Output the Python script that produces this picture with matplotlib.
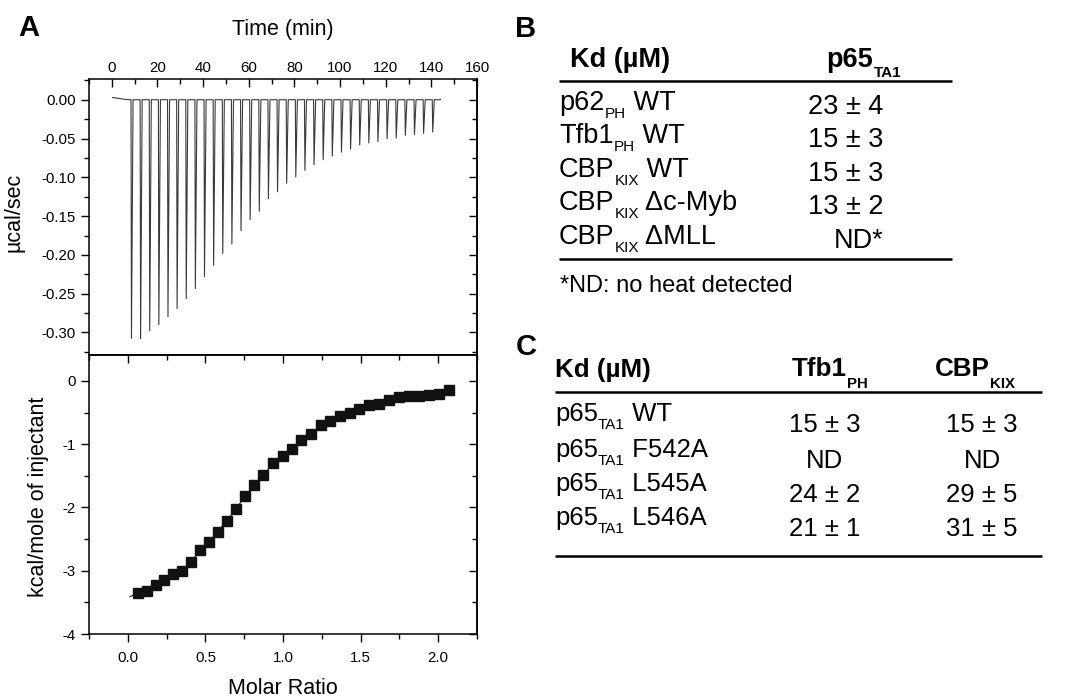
import numpy as np
import matplotlib
matplotlib.use('Agg')
import matplotlib.pyplot as plt
from matplotlib.ticker import MultipleLocator, FormatStrFormatter

plt.rcParams['font.family'] = ['Liberation Sans', 'DejaVu Sans']
plt.rcParams['axes.unicode_minus'] = False

### ITC raw data: injection times (min) and peak heights (ucal/sec)
inj_time = [8.4, 12.4, 16.4, 20.4, 24.4, 28.4, 32.4, 36.4, 40.4, 44.4, 48.4, 52.4,
            56.4, 60.4, 64.4, 68.4, 72.4, 76.4, 80.4, 84.4, 88.4, 92.4, 96.4, 100.4,
            104.4, 108.4, 112.4, 116.4, 120.4, 124.4, 128.4, 132.4, 136.4, 140.4]
inj_peak = [-0.3075, -0.308, -0.2976, -0.290, -0.2796, -0.269, -0.2564, -0.2435,
            -0.228, -0.2134, -0.198, -0.186, -0.1688, -0.1546, -0.1438, -0.1276,
            -0.1186, -0.1077, -0.0992, -0.091, -0.0838, -0.0773, -0.0726, -0.0674,
            -0.0635, -0.0584, -0.0558, -0.0541, -0.0503, -0.0494, -0.0459, -0.0446,
            -0.0433, -0.0416]
base_t = [0.3, 2.0, 4.0, 6.0, 8.0]
base_y = [0.0028, 0.0022, 0.0012, 0.0004, 0.0]
t_end = 144.0

### integrated heats
molar_ratio = [0.067, 0.121, 0.179, 0.235, 0.293, 0.351, 0.407, 0.465, 0.523, 0.579,
               0.637, 0.698, 0.756, 0.814, 0.874, 0.935, 0.997, 1.057, 1.118, 1.180,
               1.242, 1.305, 1.365, 1.430, 1.490, 1.553, 1.617, 1.682, 1.746, 1.811,
               1.875, 1.940, 2.005, 2.069]
heat = [-3.35, -3.32, -3.23, -3.14, -3.05, -3.00, -2.86, -2.68, -2.55, -2.38,
        -2.21, -2.02, -1.82, -1.65, -1.49, -1.30, -1.19, -1.07, -0.93, -0.84,
        -0.70, -0.64, -0.56, -0.50, -0.45, -0.38, -0.37, -0.30, -0.26, -0.24,
        -0.24, -0.22, -0.20, -0.15]
fit_x = [0.013] + molar_ratio
fit_y = [-3.41] + heat

### tables
b_rows = [('p62', 'PH', ' WT'), ('Tfb1', 'PH', ' WT'), ('CBP', 'KIX', ' WT'),
          ('CBP', 'KIX', ' Δc-Myb'), ('CBP', 'KIX', ' ΔMLL')]
b_vals = ['23 ± 4', '15 ± 3', '15 ± 3', '13 ± 2', 'ND*']
c_rows = [('p65', 'TA1', ' WT'), ('p65', 'TA1', ' F542A'),
          ('p65', 'TA1', ' L545A'), ('p65', 'TA1', ' L546A')]
c_tfb1 = ['15 ± 3', 'ND', '24 ± 2', '21 ± 1']
c_cbp = ['15 ± 3', 'ND', '29 ± 5', '31 ± 5']

fig = plt.figure(figsize=(10.85, 6.97), dpi=100)
W, H = 1085.0, 697.0
ax1 = fig.add_axes([89 / W, 1 - 355 / H, 388 / W, 276 / H])
ax2 = fig.add_axes([89 / W, 1 - 634 / H, 388 / W, 279 / H])

# raw trace
tt = list(base_t)
yy = list(base_y)
for ti, di in zip(inj_time, inj_peak):
    tt += [ti, ti + 0.2, ti + 0.9]
    yy += [0.0, di, 0.0]
tt.append(t_end)
yy.append(0.0)
ax1.plot(tt, yy, color='#3a3a3a', lw=0.8)

ax1.set_xlim(-10, 160)
ax1.set_ylim(-0.329, 0.0267)
ax1.xaxis.tick_top()
ax1.xaxis.set_label_position('top')
ax1.xaxis.set_major_locator(MultipleLocator(20))
ax1.xaxis.set_minor_locator(MultipleLocator(10))
ax1.yaxis.set_major_locator(MultipleLocator(0.05))
ax1.yaxis.set_minor_locator(MultipleLocator(0.025))
ax1.yaxis.set_major_formatter(FormatStrFormatter('%.2f'))
ax1.tick_params(axis='x', which='both', direction='in', top=True, bottom=False, pad=3)
ax1.tick_params(axis='y', which='both', direction='out', left=True, right=False)
ax1.tick_params(which='major', length=6, width=1, labelsize=10.8)
ax1.tick_params(which='minor', length=3.3, width=1)
r1 = ax1.secondary_yaxis('right')
r1.yaxis.set_major_locator(MultipleLocator(0.05))
r1.yaxis.set_minor_locator(MultipleLocator(0.025))
r1.tick_params(which='both', direction='in', labelright=False, width=1)
r1.tick_params(which='major', length=6)
r1.tick_params(which='minor', length=3.3)
ax1.set_xlabel('Time (min)', fontsize=15.5)
ax1.xaxis.set_label_coords(0.5, 1.158)
ax1.set_ylabel('µcal/sec', fontsize=15.5)
ax1.yaxis.set_label_coords(-0.165, 0.518)

# binding isotherm
ax2.plot(fit_x, fit_y, color='#222222', lw=0.8)
ax2.plot(molar_ratio, heat, ls='none', marker='s', ms=7, color='#111111')
ax2.set_xlim(-0.25, 2.25)
ax2.set_ylim(-4, 0.41)
ax2.xaxis.set_major_locator(MultipleLocator(0.5))
ax2.xaxis.set_minor_locator(MultipleLocator(0.25))
ax2.xaxis.set_major_formatter(FormatStrFormatter('%.1f'))
ax2.yaxis.set_major_locator(MultipleLocator(1))
ax2.yaxis.set_minor_locator(MultipleLocator(0.5))
ax2.yaxis.set_major_formatter(FormatStrFormatter('%d'))
ax2.tick_params(which='both', direction='out')
ax2.tick_params(axis='x', pad=6)
ax2.tick_params(which='major', length=6, width=1, labelsize=10.8)
ax2.tick_params(which='minor', length=3.3, width=1)
t2 = ax2.secondary_xaxis('top')
t2.xaxis.set_major_locator(MultipleLocator(0.5))
t2.xaxis.set_minor_locator(MultipleLocator(0.25))
r2 = ax2.secondary_yaxis('right')
r2.yaxis.set_major_locator(MultipleLocator(1))
r2.yaxis.set_minor_locator(MultipleLocator(0.5))
for sec in (t2, r2):
    sec.tick_params(which='both', direction='in', labeltop=False, labelright=False, width=1)
    sec.tick_params(which='major', length=6)
    sec.tick_params(which='minor', length=3.3)
ax2.set_xlabel('Molar Ratio', fontsize=15.5)
ax2.xaxis.set_label_coords(0.5, -0.158)
ax2.set_ylabel('kcal/mole of injectant', fontsize=15.5)
ax2.yaxis.set_label_coords(-0.104, 0.49)

for a in (ax1, ax2, r1, t2, r2):
    for sp in a.spines.values():
        sp.set_linewidth(1.1)

### overlay in pixel coordinates for panel letters and tables
axt = fig.add_axes([0, 0, 1, 1])
axt.set_xlim(0, W)
axt.set_ylim(H, 0)
axt.axis('off')
rend = fig.canvas.get_renderer()


def rich(x, y, parts, size, sub_size, drop, weight='normal'):
    for s, kind in parts:
        if kind == 'sub':
            t = axt.text(x, y + drop, s, fontsize=sub_size, fontweight=weight, va='baseline')
        else:
            t = axt.text(x, y, s, fontsize=size, fontweight=weight, va='baseline')
        x += t.get_window_extent(renderer=rend).width
    return x


for letter, lx, ly in (('A', 18, 36), ('B', 515, 37), ('C', 516, 355)):
    axt.text(lx, ly, letter, fontsize=21, fontweight='bold', va='baseline')

# table B
axt.text(570, 66.7, 'Kd (µM)', fontsize=19.5, fontweight='bold', va='baseline')
rich(826.7, 66.7, [('p65', 'n'), ('TA1', 'sub')], 19.5, 11, 10, 'bold')
axt.plot([559, 952], [80.7, 80.7], color='k', lw=1.8, solid_capstyle='butt')
b_base = [110, 143.3, 176.7, 210.2, 243.6]
for (main, sub, rest), val, yb in zip(b_rows, b_vals, b_base):
    rich(559, yb, [(main, 'n'), (sub, 'sub'), (rest, 'n')], 19.5, 11, 8)
    axt.text(883, yb + 4, val, fontsize=19.5, ha='right', va='baseline')
axt.plot([559, 952], [259.3, 259.3], color='k', lw=1.8, solid_capstyle='butt')
axt.text(560, 291.7, '*ND: no heat detected', fontsize=17, va='baseline')

# table C
axt.text(555, 376.5, 'Kd (µM)', fontsize=18.7, fontweight='bold', va='baseline')
rich(791.7, 376.5, [('Tfb1', 'n'), ('PH', 'sub')], 18.7, 10.8, 11, 'bold')
rich(935, 376.5, [('CBP', 'n'), ('KIX', 'sub')], 18.7, 10.8, 11, 'bold')
axt.plot([555, 1042], [391.7, 391.7], color='k', lw=1.8, solid_capstyle='butt')
c_base = [421, 457, 491, 525]
for (main, sub, rest), v1, v2, yb in zip(c_rows, c_tfb1, c_cbp, c_base):
    rich(555, yb, [(main, 'n'), (sub, 'sub'), (rest, 'n')], 18.5, 11, 8)
    axt.text(825, yb + 11, v1, fontsize=18.5, ha='center', va='baseline')
    axt.text(982, yb + 11, v2, fontsize=18.5, ha='center', va='baseline')
axt.plot([555, 1042], [556, 556], color='k', lw=1.8, solid_capstyle='butt')

fig.savefig('out.png', dpi=100)
